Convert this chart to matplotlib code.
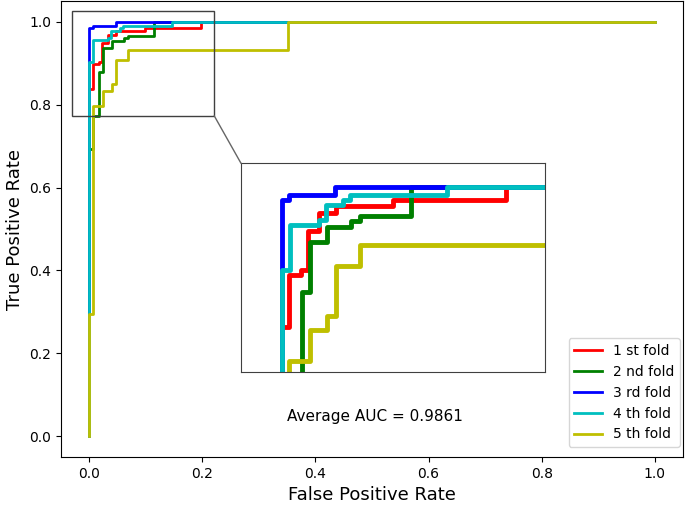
import matplotlib
matplotlib.use("Agg")
import matplotlib.pyplot as plt
from matplotlib.patches import Rectangle, ConnectionPatch

# ROC curves of the 5 folds (step points)
fpr_1 = [0, 0, 0.006, 0.006, 0.017, 0.017, 0.023, 0.023, 0.033, 0.033, 0.048, 0.048, 0.098, 0.098, 0.198, 0.198, 1.0]
tpr_1 = [0, 0.837, 0.837, 0.897, 0.897, 0.903, 0.903, 0.948, 0.948, 0.969, 0.969, 0.977, 0.977, 0.984, 0.984, 1.0, 1.0]

fpr_2 = [0, 0, 0.006, 0.006, 0.0177, 0.0177, 0.025, 0.025, 0.040, 0.040, 0.061, 0.061, 0.069, 0.069, 0.114, 0.114, 1.0]
tpr_2 = [0, 0.693, 0.693, 0.773, 0.773, 0.878, 0.878, 0.936, 0.936, 0.953, 0.953, 0.960, 0.960, 0.966, 0.966, 1.0, 1.0]

fpr_3 = [0, 0, 0.0067, 0.0067, 0.047, 0.047, 1.0]
tpr_3 = [0, 0.984, 0.984, 0.990, 0.990, 1.0, 1.0]

fpr_4 = [0, 0, 0.0073, 0.0073, 0.033, 0.033, 0.039, 0.039, 0.054, 0.054, 0.060, 0.060, 0.146, 0.146, 1.0]
tpr_4 = [0, 0.903, 0.903, 0.955, 0.955, 0.961, 0.961, 0.978, 0.978, 0.984, 0.984, 0.990, 0.990, 1.0, 1.0]

fpr_5 = [0, 0, 0.0065, 0.0065, 0.025, 0.025, 0.040, 0.040, 0.048, 0.048, 0.069, 0.069, 0.351, 0.351, 1.0]
tpr_5 = [0, 0.296, 0.296, 0.797, 0.797, 0.833, 0.833, 0.850, 0.850, 0.908, 0.908, 0.932, 0.932, 1.0, 1.0]

fprs = [fpr_1, fpr_2, fpr_3, fpr_4, fpr_5]
tprs = [tpr_1, tpr_2, tpr_3, tpr_4, tpr_5]
labels = ['1 st fold', '2 nd fold', '3 rd fold', '4 th fold', '5 th fold']
colors = ['r', 'g', 'b', 'c', 'y']
avg_auc = 0.9861

W, H = 685, 509
fig = plt.figure(figsize=(W / 100, H / 100), dpi=100)
ax = fig.add_axes([61 / W, 1 - 457 / H, 622 / W, 456 / H])

for f, t, c, lab in zip(fprs, tprs, colors, labels):
    ax.plot(f, t, color=c, lw=2, label=lab)

ax.set_xlim(-0.05, 1.05)
ax.set_ylim(-0.05, 1.05)
ax.set_xlabel('False Positive Rate', fontsize=13)
ax.set_ylabel('True Positive Rate', fontsize=13)
ax.text(0.35, 0.038, 'Average AUC = %.4f' % avg_auc, fontsize=11)

ax.legend(loc='lower right', bbox_to_anchor=(680 / W, 1 - 447 / H),
          bbox_transform=fig.transFigure, borderaxespad=0)

# zoom box on the main plot
x0, x1, y0, y1 = -0.030, 0.221, 0.773, 1.026
ax.add_patch(Rectangle((x0, y0), x1 - x0, y1 - y0, fill=False,
                       edgecolor='0.25', lw=1, zorder=5))

# inset with the zoomed curves
axins = fig.add_axes([241 / W, 1 - 371.7 / H, 304 / W, 208.4 / H])
for f, t, c in zip(fprs, tprs, colors):
    axins.plot(f, t, color=c, lw=3.5)
axins.set_xlim(-0.036, 0.2326)
axins.set_ylim(0.785, 1.027)
axins.set_xticks([])
axins.set_yticks([])
for s in axins.spines.values():
    s.set_color('0.25')

con = ConnectionPatch(xyA=(x1, y0), coordsA=ax.transData,
                      xyB=(0, 1), coordsB=axins.transAxes,
                      color='0.4', lw=1)
fig.add_artist(con)

fig.savefig('out.png', dpi=100)
